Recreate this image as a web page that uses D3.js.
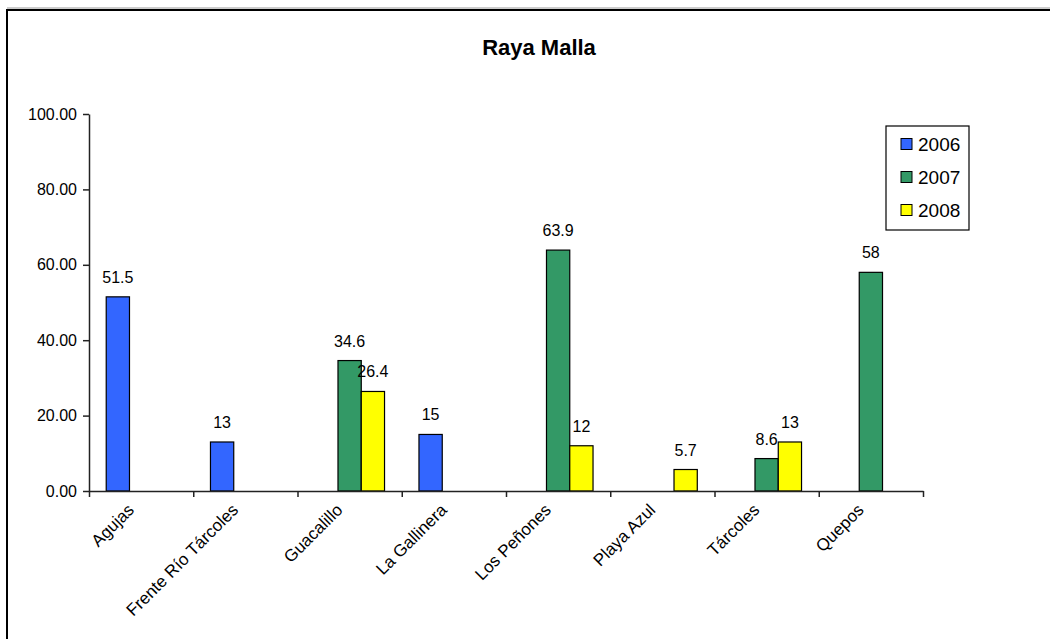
<!DOCTYPE html>
<html>
<head>
<meta charset="utf-8">
<script src="https://cdn.jsdelivr.net/npm/d3@7"></script>
<style>
    body { margin: 0; background: white; }
    svg { font-family: "Liberation Sans", Arial, sans-serif; }
</style>
</head>
<body>
<svg id="chart" width="1050" height="639"></svg>
<script>
const categories = ["Agujas", "Frente Río Tárcoles", "Guacalillo", "La Gallinera", "Los Peñones", "Playa Azul", "Tárcoles", "Quepos"];
const years = ["2006", "2007", "2008"];
const values2006 = [51.5, 13, null, 15, null, null, null, null];
const values2007 = [null, null, 34.6, null, 63.9, null, 8.6, 58];
const values2008 = [null, null, 26.4, null, 12, 5.7, 13, null];
const colors = ["#3366FF", "#339966", "#FFFF00"];
const yTicks = [0, 20, 40, 60, 80, 100];

const series = [values2006, values2007, values2008];

const largeur = 1050,
    hauteur = 639;

const svgSpace = d3.select("#chart");

// chart frame (cut on the right and bottom like the original)
svgSpace.append("line")
    .attr("x1", 7).attr("x2", largeur).attr("y1", 8).attr("y2", 8)
    .attr("stroke", "#999").attr("stroke-width", 1);
svgSpace.append("rect")
    .attr("x", 7).attr("y", 10)
    .attr("width", largeur + 20).attr("height", hauteur + 20)
    .attr("fill", "none").attr("stroke", "black").attr("stroke-width", 2);

svgSpace.append("text")
    .text("Raya Malla")
    .attr("x", 539).attr("y", 55)
    .style("text-anchor", "middle")
    .style("font-weight", "bold")
    .style("font-size", "22px");

const x = d3.scaleBand().domain(categories).range([89, 923]);
const xSub = d3.scaleBand().domain(years).range([0, x.bandwidth()]).paddingOuter(0.74);
const xIdx = d3.scaleLinear().domain([0, categories.length]).range([89, 923]);
const y = d3.scaleLinear().domain([0, 100]).range([491, 114]);

// y axis
svgSpace.append("g")
    .attr("transform", "translate(89,0)")
    .call(d3.axisLeft(y).tickValues(yTicks).tickFormat(d3.format(".2f")).tickSize(6).tickSizeOuter(0))
    .call(g => g.select(".domain").attr("stroke", "#222").attr("stroke-width", 1.5))
    .call(g => g.selectAll(".tick line").attr("stroke", "#222").attr("stroke-width", 1.5))
    .call(g => g.selectAll(".tick text")
        .attr("x", -12)
        .attr("fill", "black")
        .style("font-family", "'Liberation Sans', Arial, sans-serif")
        .style("font-size", "16px"));

// bars
const bars = [];
series.forEach((vals, s) => {
    vals.forEach((v, i) => {
        if (v !== null) bars.push({ cat: categories[i], year: years[s], value: v, color: colors[s] });
    });
});

svgSpace.append("g")
    .selectAll("rect")
    .data(bars)
    .enter()
    .append("rect")
    .attr("x", (d) => x(d.cat) + xSub(d.year))
    .attr("y", (d) => y(d.value))
    .attr("width", xSub.bandwidth())
    .attr("height", (d) => y(0) - y(d.value))
    .attr("fill", (d) => d.color)
    .attr("stroke", "black")
    .attr("stroke-width", 1.2);

svgSpace.append("g")
    .selectAll("text")
    .data(bars)
    .enter()
    .append("text")
    .text((d) => d.value)
    .attr("x", (d) => x(d.cat) + xSub(d.year) + xSub.bandwidth() / 2)
    .attr("y", (d) => y(d.value) - 14)
    .style("text-anchor", "middle")
    .style("font-size", "16px");

// x axis
svgSpace.append("g")
    .attr("transform", "translate(0," + y(0) + ")")
    .call(d3.axisBottom(xIdx).tickValues(d3.range(categories.length + 1)).tickFormat("").tickSize(6).tickSizeOuter(0))
    .call(g => g.select(".domain").attr("stroke", "#222").attr("stroke-width", 1.5))
    .call(g => g.selectAll(".tick line").attr("stroke", "#222").attr("stroke-width", 1.5));

svgSpace.append("g")
    .selectAll("text")
    .data(categories)
    .enter()
    .append("text")
    .text((d) => d)
    .attr("transform", (d) => "translate(" + (x(d) + x.bandwidth() / 2 - 6) + "," + (y(0) + 20) + ") rotate(-45)")
    .style("text-anchor", "end")
    .style("font-size", "17px");

// legend
const legend = svgSpace.append("g");
legend.append("rect")
    .attr("x", 886).attr("y", 126)
    .attr("width", 83).attr("height", 104)
    .attr("fill", "white").attr("stroke", "black").attr("stroke-width", 1.2);

const legendY = d3.scalePoint().domain(years).range([144, 210]);

legend.selectAll(".swatch")
    .data(years)
    .enter()
    .append("rect")
    .attr("class", "swatch")
    .attr("x", 901)
    .attr("y", (d) => legendY(d) - 5.5)
    .attr("width", 11).attr("height", 11)
    .attr("fill", (d, i) => colors[i])
    .attr("stroke", "black");

legend.selectAll(".legTxt")
    .data(years)
    .enter()
    .append("text")
    .attr("class", "legTxt")
    .text((d) => d)
    .attr("x", 918)
    .attr("y", (d) => legendY(d))
    .attr("dy", "0.36em")
    .style("font-size", "19px");
</script>
</body>
</html>
